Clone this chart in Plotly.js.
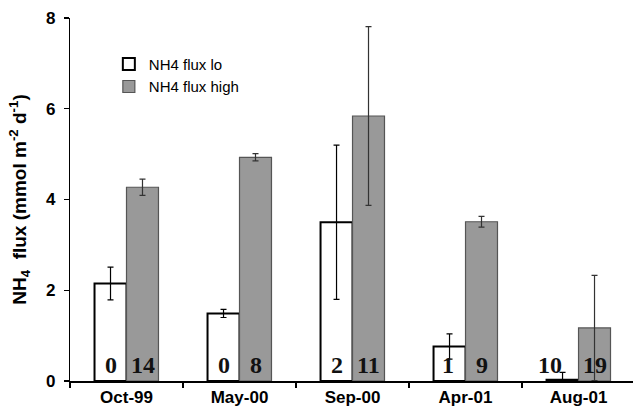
<!DOCTYPE html>
<html>
<head>
<meta charset="utf-8">
<script src="https://cdn.plot.ly/plotly-3.0.1.min.js"></script>
<style>html,body{margin:0;padding:0;background:#fff;}#chart{width:633px;height:415px;}</style>
</head>
<body>
<div id="chart"></div>
<script>
// ---- data ----
var categories = ["Oct-99", "May-00", "Sep-00", "Apr-01", "Aug-01"];
var fluxLo     = [2.15, 1.49, 3.50, 0.76, 0.03];
var fluxLoErr  = [0.36, 0.09, 1.70, 0.28, 0.16];
var fluxHigh   = [4.27, 4.93, 5.84, 3.51, 1.17];
var fluxHighErr= [0.18, 0.08, 1.97, 0.12, 1.16];
var countLo    = ["0", "0", "2", "1", "10"];
var countHigh  = ["14", "8", "11", "9", "19"];

// ---- styling ----
var loShift = [-16, -16, -16, -18, -29];
var hiShift = 16;

var traces = [
  {
    type: "bar", name: "NH4 flux lo", x: categories, y: fluxLo,
    marker: {color: "#ffffff", line: {color: "#000000", width: 2}},
    error_y: {type: "data", array: fluxLoErr, visible: true, color: "#000000", thickness: 1.2, width: 3}
  },
  {
    type: "bar", name: "NH4 flux high", x: categories, y: fluxHigh,
    marker: {color: "#999999", line: {color: "#555555", width: 1.2}},
    error_y: {type: "data", array: fluxHighErr, visible: true, color: "#333333", thickness: 1.2, width: 3}
  }
];

var annotations = [];
categories.forEach(function (c, i) {
  annotations.push({x: c, y: 0, xref: "x", yref: "y", text: "<b>" + countLo[i] + "</b>", showarrow: false,
    xshift: loShift[i], yshift: 16, yanchor: "middle",
    font: {family: "Liberation Serif, Times New Roman, serif", size: 24, color: "#111"}});
  annotations.push({x: c, y: 0, xref: "x", yref: "y", text: "<b>" + countHigh[i] + "</b>", showarrow: false,
    xshift: hiShift, yshift: 16, yanchor: "middle",
    font: {family: "Liberation Serif, Times New Roman, serif", size: 24, color: "#111"}});
});

var layout = {
  width: 633, height: 415,
  margin: {l: 70, r: 0, t: 18, b: 34},
  paper_bgcolor: "#fff", plot_bgcolor: "#fff",
  barmode: "group", bargap: 0.434, bargroupgap: 0,
  font: {family: "Liberation Sans, Arial, sans-serif", color: "#000"},
  showlegend: true,
  legend: {x: 0.069, y: 0.918, xanchor: "left", yanchor: "top", bgcolor: "rgba(0,0,0,0)",
    font: {size: 15, color: "#000"}, itemwidth: 30, tracegroupgap: 0},
  xaxis: {
    type: "category", range: [-0.5, 4.482],
    showline: true, linecolor: "#000", linewidth: 1.5,
    ticks: "outside", ticklen: 5, tickcolor: "#000", tickwidth: 1.2, tickson: "boundaries",
    showgrid: false, zeroline: false,
    tickfont: {size: 17, weight: "bold"}
  },
  yaxis: {
    range: [0, 8], tickvals: [0, 2, 4, 6, 8],
    showline: true, linecolor: "#000", linewidth: 1.2,
    ticks: "outside", ticklen: 5, tickcolor: "#000", tickwidth: 1.2,
    ticklabelstandoff: 5,
    showgrid: false, zeroline: false,
    tickfont: {size: 17, weight: "bold"},
    title: {text: "<b>NH<sub>4</sub>  flux (mmol m<sup>-2</sup> d<sup>-1</sup>)</b>", font: {size: 19}, standoff: 14}
  },
  annotations: annotations
};

Plotly.newPlot("chart", traces, layout, {displayModeBar: false, staticPlot: true});
</script>
</body>
</html>
